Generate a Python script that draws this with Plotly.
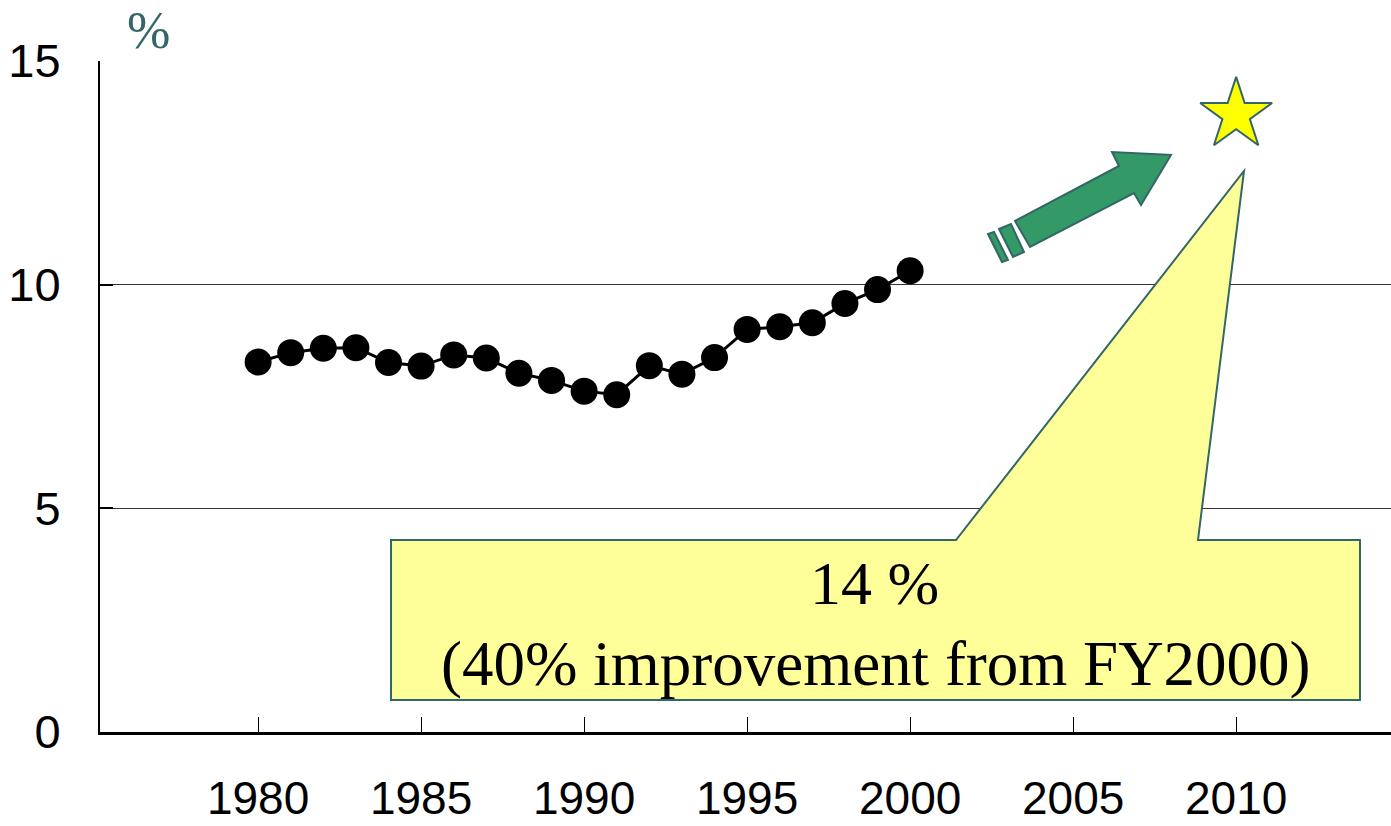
import plotly.graph_objects as go

# ---- data ----
years = list(range(1980, 2001))
values = [8.27, 8.48, 8.58, 8.59, 8.26, 8.18, 8.43, 8.36, 8.02, 7.86, 7.62,
          7.54, 8.19, 8.00, 8.37, 9.00, 9.06, 9.15, 9.58, 9.89, 10.31]
target_year = [2010]
target_value = [13.8]
callout_line1 = "14 %"
callout_line2 = "(40% improvement from FY2000)"
y_unit = "%"
x_tickvals = [1980, 1985, 1990, 1995, 2000, 2005, 2010]
y_tickvals = [0, 5, 10, 15]

# ---- layout geometry ----
W, H = 1391, 826
ML, MR, MT, MB = 100, 0, 61, 94
PW, PH = W - ML - MR, H - MT - MB

def path_px(pts):
    """Build an SVG path in paper coords from pixel positions (decorations only)."""
    segs = [f"{(x - ML) / PW:.5f},{(H - MB - y) / PH:.5f}" for x, y in pts]
    return "M" + " L".join(segs) + " Z"

TEAL = "#336666"
GREEN = "#339966"
YELLOW_BOX = "#FFFF99"

fig = go.Figure()

fig.add_trace(go.Scatter(
    x=years, y=values, mode="lines+markers",
    line=dict(color="black", width=3),
    marker=dict(color="black", size=27),
    showlegend=False, hoverinfo="x+y",
))

fig.add_trace(go.Scatter(
    x=target_year, y=target_value, mode="markers",
    marker=dict(symbol="star", size=54, color="#FFFF00",
                line=dict(color=TEAL, width=2)),
    showlegend=False, cliponaxis=False,
))

shapes = []
# callout box with pointer toward the target star
shapes.append(dict(
    type="path", xref="paper", yref="paper", layer="above",
    path=path_px([(391, 540), (956, 540), (1244, 171), (1198, 540),
                  (1360, 540), (1360, 700), (391, 700)]),
    fillcolor=YELLOW_BOX, line=dict(color=TEAL, width=2),
))
# green arrow
shapes.append(dict(
    type="path", xref="paper", yref="paper", layer="above",
    path=path_px([(1015, 221), (1119, 166), (1112, 152), (1171, 155),
                  (1141, 205), (1134, 193), (1030, 247)]),
    fillcolor=GREEN, line=dict(color=TEAL, width=2),
))
shapes.append(dict(
    type="path", xref="paper", yref="paper", layer="above",
    path=path_px([(999, 229), (1011, 224), (1024, 252), (1013, 257)]),
    fillcolor=GREEN, line=dict(color=TEAL, width=2),
))
shapes.append(dict(
    type="path", xref="paper", yref="paper", layer="above",
    path=path_px([(988, 234), (994, 232), (1008, 260), (1002, 262)]),
    fillcolor=GREEN, line=dict(color=TEAL, width=2),
))

SERIF = "Liberation Serif, Times New Roman, serif"
annotations = [
    dict(text=callout_line1, xref="paper", yref="paper",
         x=(874 - ML) / PW, y=(H - MB - 583) / PH, showarrow=False,
         xanchor="center", yanchor="middle",
         font=dict(family=SERIF, size=62, color="black")),
    dict(text=callout_line2, xref="paper", yref="paper",
         x=(876 - ML) / PW, y=(H - MB - 664) / PH, showarrow=False,
         xanchor="center", yanchor="middle",
         font=dict(family=SERIF, size=63, color="black")),
    dict(text=y_unit, xref="paper", yref="paper",
         x=(148 - ML) / PW, y=(H - MB - 30) / PH, showarrow=False,
         xanchor="center", yanchor="middle",
         font=dict(family=SERIF, size=52, color=TEAL)),
]

SANS = "Liberation Sans, Arial, sans-serif"
fig.update_layout(
    width=W, height=H,
    margin=dict(l=ML, r=MR, t=MT, b=MB, pad=0, autoexpand=False),
    paper_bgcolor="white", plot_bgcolor="white",
    shapes=shapes, annotations=annotations,
    showlegend=False,
    xaxis=dict(
        range=[1975.15, 2014.75], tickmode="array", tickvals=x_tickvals,
        ticks="inside", ticklen=15, tickcolor="black", tickwidth=1,
        showline=True, linecolor="black", linewidth=3,
        showgrid=False, zeroline=False, automargin=False,
        tickfont=dict(family=SANS, size=46, color="black"),
        ticklabelstandoff=24,
    ),
    yaxis=dict(
        range=[0, 15], tickmode="array", tickvals=y_tickvals,
        ticks="inside", ticklen=13, tickcolor="black", tickwidth=2,
        showline=True, linecolor="black", linewidth=2,
        showgrid=True, gridcolor="#333333", gridwidth=1.2,
        zeroline=False, automargin=False,
        tickfont=dict(family=SANS, size=47, color="black"),
        ticklabelstandoff=28,
    ),
)

fig.write_html(
    "out.html",
    config={"displayModeBar": False},
    post_script="document.body.style.margin='0';document.body.style.overflow='hidden';",
)
